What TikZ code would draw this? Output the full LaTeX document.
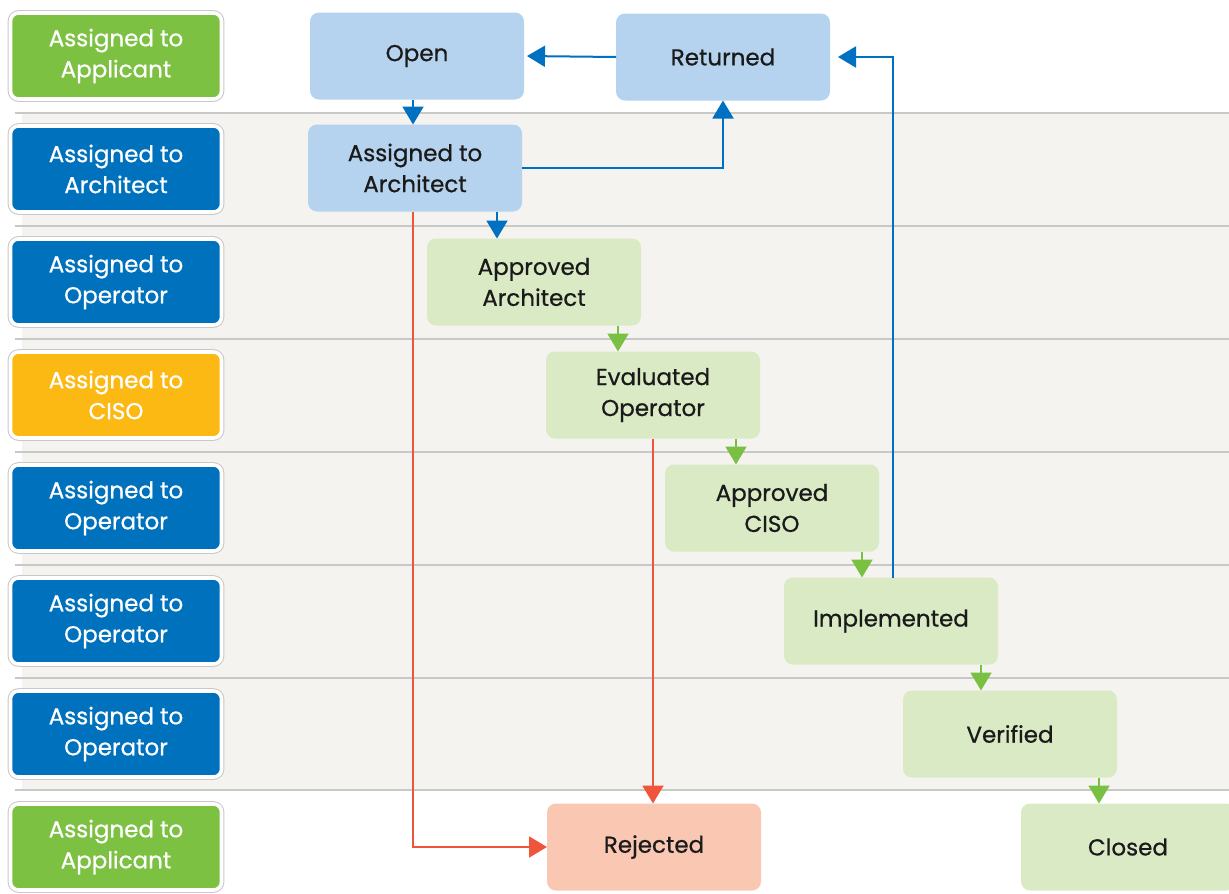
\documentclass[tikz,border=0pt]{standalone}
\usepackage{fontspec}
\setmainfont{Poppins}[FakeBold=0.7]
\usetikzlibrary{positioning,arrows.meta}
\definecolor{lgreen}{HTML}{7DC142}
\definecolor{lblue}{HTML}{0071BC}
\definecolor{lyellow}{HTML}{FDB913}
\definecolor{sblue}{HTML}{B5D3EE}
\definecolor{sgreen}{HTML}{D9EAC4}
\definecolor{sred}{HTML}{F9C7B2}
\definecolor{ablue}{HTML}{0070C0}
\definecolor{agreen}{HTML}{7AC143}
\definecolor{ared}{HTML}{EF553A}
\definecolor{band}{HTML}{F4F3EF}
\definecolor{rule}{HTML}{C8C8C8}
\definecolor{ink}{HTML}{1A1A1A}

\begin{document}
\begin{tikzpicture}[x=1pt,y=-1pt,
  font=\fontsize{23}{31}\selectfont,
  lane/.style={align=center,text=white,minimum width=211pt,minimum height=86pt,rounded corners=8pt,
               preaction={draw=rule,line width=5.6pt},draw=white,line width=3.6pt},
  st/.style={align=center,text=ink,minimum width=214pt,minimum height=87pt,rounded corners=9pt,
             inner sep=0pt,outer sep=0pt},
  a/.style={-{Triangle[length=18pt,width=21pt]},line width=2pt}]
\useasboundingbox (0,0) rectangle (1229,894);
% swimlane bands
\fill[band] (22,113) rectangle (1229,790);
\draw[rule,line width=1.2pt] (15,113)--(1229,113) (15,226)--(1229,226) (15,339)--(1229,339)
  (15,452)--(1229,452) (15,565)--(1229,565) (15,678)--(1229,678) (15,790)--(1229,790);
\node[lane,fill=lgreen] (l1) at (116,56) {Assigned to\\Applicant};
\node[lane,fill=lblue] (l2) at (116,169) {Assigned to\\Architect};
\node[lane,fill=lblue] (l3) at (116,282) {Assigned to\\Operator};
\node[lane,fill=lyellow] (l4) at (116,395) {Assigned to\\CISO};
\node[lane,fill=lblue] (l5) at (116,508) {Assigned to\\Operator};
\node[lane,fill=lblue] (l6) at (116,621) {Assigned to\\Operator};
\node[lane,fill=lblue] (l7) at (116,734) {Assigned to\\Operator};
\node[lane,fill=lgreen] (l8) at (116,847) {Assigned to\\Applicant};
% states
\node[st,fill=sblue] (op) at (417,56) {Open};
\node[st,fill=sblue] (rt) at (723,57) {Returned};
\node[st,fill=sblue] (ata) at (415,168) {Assigned to\\Architect};
\node[st,fill=sgreen,below right=27pt and -95pt of ata] (aa) {Approved\\Architect};
\node[st,fill=sgreen,below right=26pt and -95pt of aa] (eo) {Evaluated\\Operator};
\node[st,fill=sgreen,below right=26pt and -95pt of eo] (ac) {Approved\\CISO};
\node[st,fill=sgreen,below right=26pt and -95pt of ac] (im) {Implemented};
\node[st,fill=sgreen,below right=26pt and -95pt of im] (vf) {Verified};
\node[st,fill=sgreen,below right=26pt and -96pt of vf] (cl) {Closed};
\node[st,fill=sred] (rj) at (654,847) {Rejected};
% transitions
\draw[a,ablue] ([xshift=-4pt]op.south) -- ([xshift=-4pt]op.south |- ata.north);
\draw[a,ablue] (ata.east) -| (rt.south);
\draw[a,ablue,shorten >=3pt] (rt.west) -- (op.east);
\draw[a,ablue,shorten >=8pt] ([xshift=2pt]im.north) |- (rt.east);
\draw[a,ablue] ([xshift=-25pt]ata.south east) -- ([xshift=-25pt]ata.south east |- aa.north);
\draw[a,agreen] ([xshift=-23pt]aa.south east) -- ([xshift=-23pt]aa.south east |- eo.north);
\draw[a,agreen] ([xshift=-24pt]eo.south east) -- ([xshift=-24pt]eo.south east |- ac.north);
\draw[a,agreen] ([xshift=-17pt]ac.south east) -- ([xshift=-17pt]ac.south east |- im.north);
\draw[a,agreen] ([xshift=-17pt]im.south east) -- ([xshift=-17pt]im.south east |- vf.north);
\draw[a,agreen] ([xshift=-18pt]vf.south east) -- ([xshift=-18pt]vf.south east |- cl.north);
\draw[a,ared] ([xshift=-2pt]ata.south) |- (rj.west);
\draw[a,ared] (eo.south) -- (eo.south |- rj.north);
\end{tikzpicture}
\end{document}
